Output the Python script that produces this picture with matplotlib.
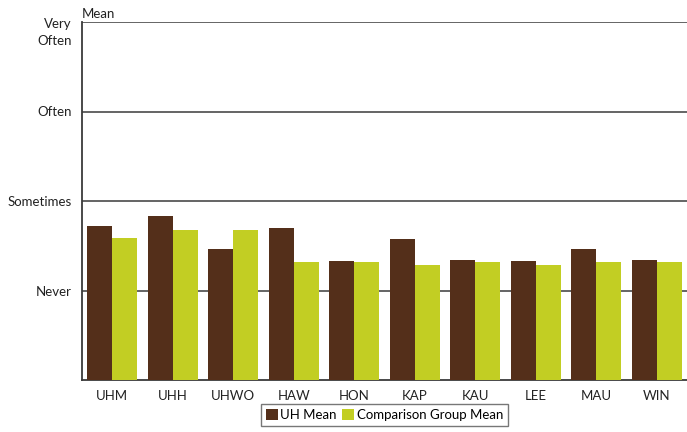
import matplotlib.pyplot as plt
import matplotlib.transforms as mtransforms
import numpy as np

plt.rcParams['font.family'] = ['Lato', 'DejaVu Sans']

campus = ["UHM", "UHH", "UHWO", "HAW", "HON", "KAP", "KAU", "LEE", "MAU", "WIN"]
uh_mean = [1.72, 1.83, 1.46, 1.70, 1.33, 1.58, 1.34, 1.33, 1.46, 1.34]
comp_mean = [1.59, 1.68, 1.68, 1.32, 1.32, 1.285, 1.32, 1.285, 1.32, 1.32]
levels = [1, 2, 3, 4]
level_names = ["Never", "Sometimes", "Often", "Very\nOften"]

brown = "#542F1A"
lime = "#C2CE23"
grid = "#3a3a3a"

fig = plt.figure(figsize=(6.87, 4.32), dpi=100)
ax = fig.add_axes([82 / 687, 52 / 432, 605 / 687, 358 / 432])

x = np.arange(len(campus))
w = 0.415
ax.bar(x - w / 2, uh_mean, w, color=brown, label="UH Mean", zorder=3)
ax.bar(x + w / 2, comp_mean, w, color=lime, label="Comparison Group Mean", zorder=3)

ax.set_xlim(-0.5, len(campus) - 0.5)
ax.set_ylim(0, 4)
ax.set_yticks(levels)
ax.set_yticklabels(level_names[:3] + [""], fontsize=9.5, color="#222222")
ax.set_xticks(x)
ax.set_xticklabels(campus, fontsize=9.5, color="#222222")
ax.tick_params(axis="both", length=0)
ax.tick_params(axis="y", pad=7.5)
ax.tick_params(axis="x", pad=7)
ax.yaxis.grid(True, color=grid, linewidth=1.1, zorder=0)

for s in ["top", "right"]:
    ax.spines[s].set_visible(False)
for s in ["left", "bottom"]:
    ax.spines[s].set_color(grid)
    ax.spines[s].set_linewidth(1.3)

trans = mtransforms.blended_transform_factory(ax.transAxes, ax.transData)
ax.text(-10 / 605, 4 - 0.115, level_names[3], transform=trans, ha="right",
        va="center", fontsize=9.5, color="#222222", linespacing=1.55)
ax.text(0, 1.006, "Mean", transform=ax.transAxes, ha="left", va="bottom",
        fontsize=9.5, color="#222222")

leg = ax.legend(loc="upper center", bbox_to_anchor=(0.5, -0.068), ncol=2,
                fontsize=9.5, frameon=True, fancybox=False, handlelength=0.9,
                handleheight=0.9, handletextpad=0.2, columnspacing=0.4,
                borderpad=0.35, borderaxespad=0)
leg.get_frame().set_edgecolor("#555555")
leg.get_frame().set_linewidth(1.0)

fig.savefig("out.png", dpi=100)
